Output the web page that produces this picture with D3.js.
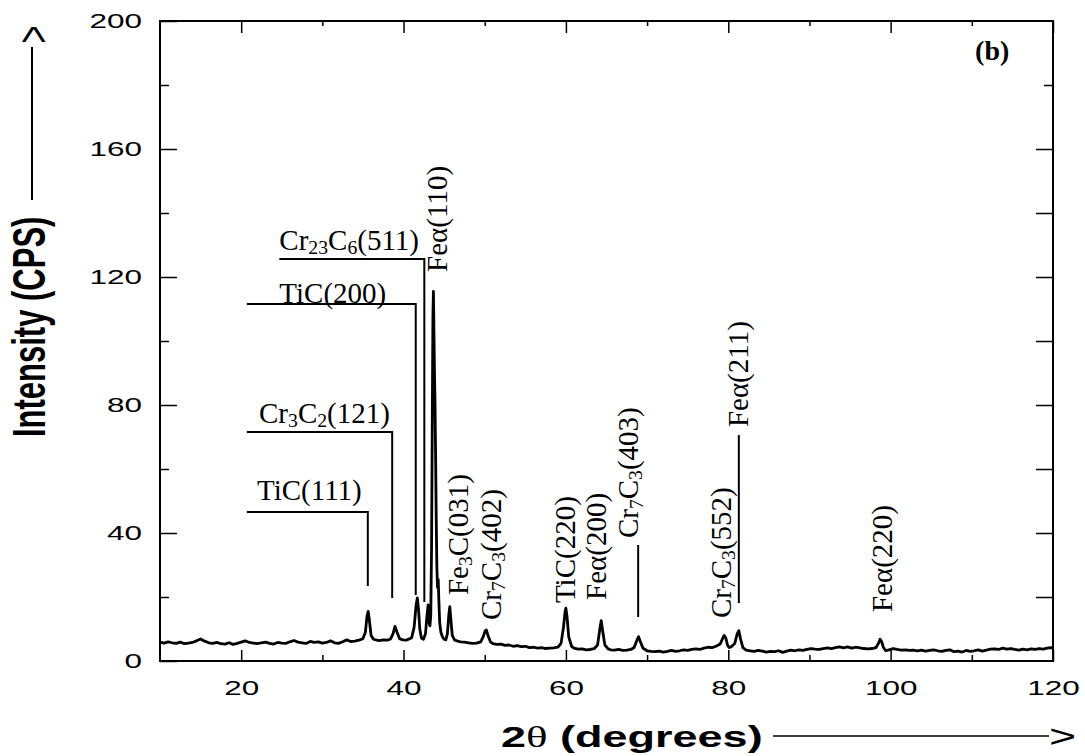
<!DOCTYPE html>
<html>
<head>
<meta charset="utf-8">
<script src="https://cdn.jsdelivr.net/npm/d3@7"></script>
<style>
  body { margin: 0; background: #fff; }
  svg { display: block; }
  .sans { font-family: "Liberation Sans", Arial, sans-serif; }
  .serif { font-family: "Liberation Serif", "Times New Roman", serif; }
</style>
</head>
<body>
<div id="wrapper"></div>
<script>
// XRD scan: [2theta (deg), intensity (CPS)]
const scan = [
  [10.0,5.9],[10.5,5.6],[11.0,6.0],[11.5,5.7],[12.0,5.5],[12.5,5.9],[13.0,5.4],[13.5,5.6],
  [14.0,5.8],[14.5,6.3],[15.0,6.9],[15.5,6.2],[16.0,5.7],[16.5,5.5],[17.0,5.8],[17.5,5.4],
  [18.0,5.3],[18.5,5.7],[19.0,5.2],[19.5,5.5],[20.0,5.9],[20.5,6.3],[21.0,5.8],[21.5,5.6],
  [22.0,5.4],[22.5,5.7],[23.0,5.9],[23.5,5.5],[24.0,5.3],[24.5,5.8],[25.0,5.6],[25.5,5.5],
  [26.0,6.0],[26.5,6.4],[27.0,5.9],[27.5,5.7],[28.0,5.5],[28.5,6.1],[29.0,5.8],[29.5,6.0],
  [30.0,5.6],[30.5,5.8],[31.0,6.3],[31.5,5.7],[32.0,5.5],[32.5,6.0],[33.0,6.6],[33.5,6.1],
  [34.0,6.2],[34.5,6.5],[35.0,7.0],[35.3,9.0],[35.5,14.0],[35.65,15.5],[35.8,12.5],[36.0,8.0],
  [36.3,6.8],[36.7,6.5],[37.0,6.4],[37.5,6.6],[38.0,6.5],[38.4,6.9],[38.7,8.5],[38.95,10.8],
  [39.2,9.0],[39.5,7.0],[39.9,6.6],[40.3,6.5],[40.7,6.9],[41.0,7.3],[41.3,10.5],[41.55,17.5],
  [41.7,19.7],[41.85,16.0],[42.0,10.0],[42.2,7.2],[42.45,6.8],[42.7,8.5],[42.9,14.5],[43.03,17.5],
  [43.15,12.0],[43.25,11.0],[43.35,14.0],[43.45,35],[43.55,80],[43.62,108],[43.68,115.5],[43.74,104],
  [43.8,92],[43.88,80],[43.95,64],[44.02,46],[44.1,30],[44.18,23],[44.27,25.5],[44.35,19],
  [44.45,12],[44.6,9],[44.8,7.5],[45.0,6.8],[45.2,6.6],[45.4,8.5],[45.58,14.5],[45.7,17.0],
  [45.83,13.0],[46.0,8.0],[46.3,6.5],[46.7,6.2],[47.0,6.0],[47.5,5.9],[48.0,5.7],[48.5,5.5],
  [49.0,5.6],[49.5,6.0],[49.8,7.5],[50.05,9.4],[50.2,9.7],[50.4,8.0],[50.7,6.0],[51.0,5.4],
  [51.5,5.2],[52.0,5.3],[52.5,4.9],[53.0,5.0],[53.5,4.6],[54.0,4.8],[54.5,4.5],[55.0,4.6],
  [55.5,4.2],[56.0,4.3],[56.5,4.0],[57.0,4.2],[57.5,3.9],[58.0,4.0],[58.5,4.1],[59.0,4.3],
  [59.4,5.5],[59.7,10.5],[59.9,15.5],[60.0,16.5],[60.15,13.5],[60.35,7.5],[60.7,4.6],[61.0,4.0],
  [61.5,3.7],[62.0,3.8],[62.5,3.5],[63.0,3.6],[63.5,3.9],[63.9,5.0],[64.15,9.5],[64.35,12.6],
  [64.55,9.0],[64.8,5.0],[65.2,3.8],[65.5,3.5],[66.0,3.4],[66.5,3.6],[67.0,3.3],[67.5,3.4],
  [68.0,3.6],[68.4,4.2],[68.75,6.5],[68.95,7.6],[69.15,6.2],[69.5,4.0],[70.0,3.2],[70.5,3.0],
  [71.0,2.9],[71.5,3.1],[72.0,2.8],[72.5,3.0],[73.0,3.3],[73.5,3.0],[74.0,3.2],[74.5,3.5],
  [75.0,3.3],[75.5,3.6],[76.0,3.8],[76.5,3.6],[77.0,4.0],[77.5,4.3],[78.0,4.2],[78.5,4.6],
  [79.0,5.3],[79.3,7.0],[79.5,8.0],[79.7,7.2],[79.9,5.0],[80.1,4.2],[80.4,4.5],[80.8,5.5],
  [81.1,8.5],[81.3,9.5],[81.5,7.0],[81.8,4.2],[82.2,3.4],[82.7,3.2],[83.2,3.0],[83.7,3.3],
  [84.2,3.1],[84.7,2.8],[85.2,3.0],[85.7,2.9],[86.2,3.2],[86.7,2.7],[87.2,3.1],[87.7,3.4],
  [88.2,3.2],[88.7,3.5],[89.2,3.3],[89.7,3.6],[90.2,3.9],[90.7,3.7],[91.2,3.6],[91.7,3.9],
  [92.2,4.1],[92.7,3.9],[93.2,4.2],[93.7,4.4],[94.2,4.1],[94.7,4.4],[95.2,4.0],[95.7,4.3],
  [96.2,4.1],[96.7,3.9],[97.2,3.8],[97.7,3.9],[98.2,4.2],[98.5,5.5],[98.7,6.8],[98.9,6.0],
  [99.1,4.3],[99.4,3.2],[99.8,3.5],[100.3,3.9],[100.8,3.6],[101.3,3.4],[101.8,3.5],[102.3,3.3],
  [102.8,3.4],[103.3,3.2],[103.8,3.4],[104.3,3.1],[104.8,3.3],[105.3,3.5],[105.8,3.2],[106.3,3.0],
  [106.8,3.3],[107.3,3.5],[107.8,2.9],[108.3,3.1],[108.8,2.8],[109.3,3.3],[109.8,3.0],[110.3,3.2],
  [110.8,3.5],[111.3,3.1],[111.8,3.4],[112.3,3.7],[112.8,3.8],[113.3,3.6],[113.8,4.0],[114.3,3.7],
  [114.8,3.9],[115.3,3.6],[115.8,3.4],[116.3,3.7],[116.8,3.5],[117.3,3.8],[117.8,3.6],[118.3,3.9],
  [118.8,3.7],[119.3,4.0],[119.7,4.2],[120.0,4.0],
]

// tick values
const xMajorTicks = [20, 40, 60, 80, 100, 120]
const xMinorTicks = [30, 50, 70, 90, 110]
const yMajorTicks = [0, 40, 80, 120, 160, 200]
const yMinorTicks = [20, 60, 100, 140, 180]

// peak labels with a horizontal leader: text start / baseline, leader left end, leader level, peak, leader foot
const leaderLabels = [
  { label: "TiC(111)",      textX: 21.95, textY: 50.3,  lineX: 20.7,  lineY: 46.6,  peak: 35.6,  foot: 23.4 },
  { label: "Cr_3C_2(121)",  textX: 22.2,  textY: 74.4,  lineX: 20.7,  lineY: 71.6,  peak: 38.6,  foot: 19.7 },
  { label: "TiC(200)",      textX: 24.7,  textY: 111.9, lineX: 20.7,  lineY: 111.6, peak: 41.5,  foot: 20.6 },
  { label: "Cr_23C_6(511)", textX: 24.7,  textY: 128.4, lineX: 24.7,  lineY: 125.6, peak: 42.56, foot: 18.4 },
]

// vertical peak labels: baseline angle, start intensity
const verticalLabels = [
  { label: "Feα(110)",     x: 45.3,  y: 121.6 },
  { label: "Fe_3C(031)",   x: 47.9,  y: 20.6 },
  { label: "Cr_7C_3(402)", x: 52.0,  y: 12.8 },
  { label: "TiC(220)",     x: 61.1,  y: 18.1 },
  { label: "Feα(200)",     x: 64.9,  y: 19.1 },
  { label: "Cr_7C_3(403)", x: 68.9,  y: 38.4 },
  { label: "Cr_7C_3(552)", x: 80.3,  y: 13.4 },
  { label: "Feα(211)",     x: 82.4,  y: 73.1 },
  { label: "Feα(220)",     x: 100.2, y: 15.3 },
]

// short vertical leaders under two labels
const verticalLeaders = [
  { x: 68.9, top: 36.25, bottom: 13.75 },
  { x: 81.3, top: 70.6,  bottom: 18.1 },
]

async function drawChart() {

  const xAccessor = d => d[0]
  const yAccessor = d => d[1]

  // dimensions
  let dimensions = {
    width: 1085,
    height: 756,
    margin: { top: 21, right: 32, bottom: 95, left: 160 },
  }
  dimensions.boundedWidth = dimensions.width - dimensions.margin.left - dimensions.margin.right
  dimensions.boundedHeight = dimensions.height - dimensions.margin.top - dimensions.margin.bottom

  // canvas
  const wrapper = d3.select("#wrapper")
    .append("svg")
      .attr("width", dimensions.width)
      .attr("height", dimensions.height)

  const bounds = wrapper.append("g")
    .attr("transform", `translate(${dimensions.margin.left},${dimensions.margin.top})`)

  // scales
  const xScale = d3.scaleLinear()
    .domain([10, 120])
    .range([0, dimensions.boundedWidth])

  const yScale = d3.scaleLinear()
    .domain([0, 200])
    .range([dimensions.boundedHeight, 0])

  // axes (ticks point inward)
  const tidy = g => {
    g.select(".domain").remove()
    g.selectAll(".tick line").attr("stroke", "#000").attr("stroke-width", 1.5)
  }

  bounds.append("g")
    .attr("transform", `translate(0,${dimensions.boundedHeight})`)
    .call(d3.axisBottom(xScale).tickValues(xMajorTicks).tickSize(-11).tickSizeOuter(0).tickPadding(19))
    .call(tidy)
    .call(g => g.selectAll("text")
      .attr("class", "sans")
      .attr("font-size", 21)
      .attr("fill", "#000")
      .attr("transform", "scale(1.5,1)"))

  bounds.append("g")
    .attr("transform", `translate(0,${dimensions.boundedHeight})`)
    .call(d3.axisBottom(xScale).tickValues(xMinorTicks).tickSize(-6).tickSizeOuter(0).tickFormat(""))
    .call(tidy)

  bounds.append("g")
    .call(d3.axisTop(xScale).tickValues(xMajorTicks).tickSize(-12).tickSizeOuter(0).tickFormat(""))
    .call(tidy)

  bounds.append("g")
    .call(d3.axisTop(xScale).tickValues(xMinorTicks).tickSize(-5).tickSizeOuter(0).tickFormat(""))
    .call(tidy)

  bounds.append("g")
    .call(d3.axisLeft(yScale).tickValues(yMajorTicks).tickSize(-17).tickSizeOuter(0))
    .call(tidy)
    .call(g => g.selectAll("text")
      .attr("class", "sans")
      .attr("font-size", 21)
      .attr("fill", "#000")
      .attr("x", -12)
      .attr("transform", "scale(1.5,1)"))

  bounds.append("g")
    .call(d3.axisLeft(yScale).tickValues(yMinorTicks).tickSize(-9).tickSizeOuter(0).tickFormat(""))
    .call(tidy)

  bounds.append("g")
    .attr("transform", `translate(${dimensions.boundedWidth},0)`)
    .call(d3.axisRight(yScale).tickValues([20, 40, 60, 80, 100, 120, 140, 160]).tickSize(-17).tickSizeOuter(0).tickFormat(""))
    .call(tidy)

  bounds.append("g")
    .attr("transform", `translate(${dimensions.boundedWidth},0)`)
    .call(d3.axisRight(yScale).tickValues([180]).tickSize(-9).tickSizeOuter(0).tickFormat(""))
    .call(tidy)

  // frame
  bounds.append("rect")
    .attr("width", dimensions.boundedWidth)
    .attr("height", dimensions.boundedHeight)
    .attr("fill", "none")
    .attr("stroke", "#000")
    .attr("stroke-width", 2)

  // data
  const lineGenerator = d3.line()
    .x(d => xScale(xAccessor(d)))
    .y(d => yScale(yAccessor(d)))

  bounds.append("path")
    .datum(scan)
    .attr("d", lineGenerator)
    .attr("fill", "none")
    .attr("stroke", "#000")
    .attr("stroke-width", 2.8)
    .attr("stroke-linejoin", "round")

  // label text with "_n" subscripts
  const writeLabel = (text, str) => {
    str.split(/_(\d+)/).forEach((part, i) => {
      if (!part) return
      if (i % 2 == 1) {
        text.append("tspan").attr("font-size", "0.68em").attr("dy", "0.22em").text(part)
      } else {
        text.append("tspan").attr("dy", i > 0 ? "-0.15em" : 0).text(part)
      }
    })
  }

  const annotations = bounds.append("g")
    .attr("class", "serif")
    .attr("font-size", 29)
    .attr("fill", "#000")

  leaderLabels.forEach(d => {
    annotations.append("path")
      .attr("d", d3.line()([
        [xScale(d.lineX), yScale(d.lineY)],
        [xScale(d.peak), yScale(d.lineY)],
        [xScale(d.peak), yScale(d.foot)],
      ]))
      .attr("fill", "none")
      .attr("stroke", "#000")
      .attr("stroke-width", 2)
    const t = annotations.append("text")
      .attr("x", xScale(d.textX))
      .attr("y", yScale(d.textY))
    writeLabel(t, d.label)
  })

  verticalLabels.forEach(d => {
    const t = annotations.append("text")
      .attr("transform", `translate(${xScale(d.x)},${yScale(d.y)}) rotate(-90)`)
    writeLabel(t, d.label)
  })

  annotations.selectAll(".vleader")
    .data(verticalLeaders)
    .enter().append("line")
      .attr("class", "vleader")
      .attr("x1", d => xScale(d.x))
      .attr("x2", d => xScale(d.x))
      .attr("y1", d => yScale(d.top))
      .attr("y2", d => yScale(d.bottom))
      .attr("stroke", "#000")
      .attr("stroke-width", 2)

  bounds.append("text")
    .attr("class", "serif")
    .attr("x", xScale(110.4))
    .attr("y", yScale(187.8))
    .attr("font-size", 28)
    .attr("font-weight", "bold")
    .text("(b)")

  // axis titles with arrows
  const yTitle = wrapper.append("text")
    .attr("class", "sans")
    .attr("font-size", 31)
    .attr("font-weight", "bold")
    .attr("transform", "translate(45,437) scale(1.5,1) rotate(-90)")
    .text("Intensity (CPS)")

  wrapper.append("line")
    .attr("x1", 32).attr("x2", 32)
    .attr("y1", 200).attr("y2", 47)
    .attr("stroke", "#000")
    .attr("stroke-width", 2)

  wrapper.append("text")
    .attr("class", "sans")
    .attr("font-size", 31)
    .attr("transform", "translate(48.5,43.5) scale(1.5,1) rotate(-90)")
    .text(">")

  const xTitle = wrapper.append("text")
    .attr("class", "sans")
    .attr("font-size", 30)
    .attr("font-weight", "bold")
    .attr("transform", "translate(501,747) scale(1.5,1)")
  xTitle.append("tspan").text("2")
  xTitle.append("tspan").attr("class", "serif").attr("font-weight", "normal").text("θ")
  xTitle.append("tspan").text(" (degrees)")

  wrapper.append("line")
    .attr("x1", 773).attr("x2", 1049)
    .attr("y1", 736).attr("y2", 736)
    .attr("stroke", "#000")
    .attr("stroke-width", 1.5)

  wrapper.append("text")
    .attr("class", "sans")
    .attr("font-size", 31)
    .attr("transform", "translate(1049,747) scale(1.5,1)")
    .text(">")
}
drawChart()
</script>
</body>
</html>
